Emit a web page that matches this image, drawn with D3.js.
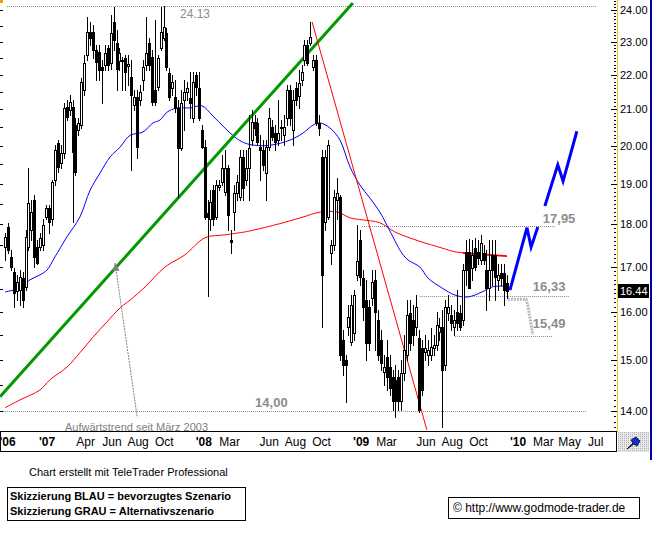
<!DOCTYPE html>
<html lang="de">
<head>
<meta charset="UTF-8">
<title>Chart</title>
<script src="https://cdn.jsdelivr.net/npm/d3@7"></script>
<style>
  body { margin: 0; background: #fff; }
  svg text { font-family: "Liberation Sans", Arial, sans-serif; }
</style>
</head>
<body>
<div id="chart"></div>
<script>
// weekly candles: [open, high, low, close]
const candles = [
  [17.46,17.79,17.16,17.69],[17.93,18.03,17.32,17.39],[17.23,17.39,16.92,16.99],[16.88,16.97,16.11,16.41],
  [16.44,16.81,16.26,16.66],[16.48,16.92,16.15,16.77],[16.75,16.88,16.11,16.26],[16.55,17.86,16.48,17.69],
  [17.46,19.41,17.39,18.52],[17.86,18.6,17.62,18.3],[18.6,18.72,16.99,17.23],[17.46,17.62,17.05,17.09],
  [17.46,17.79,17.39,17.67],[17.51,18.11,17.39,17.98],[18.18,18.47,18.11,18.4],[18.4,18.47,17.79,18.04],
  [18.11,19.1,17.98,19.05],[19.1,20.03,18.97,19.88],[20.08,20.16,19.31,19.44],[19.55,20.03,19.41,19.8],
  [19.8,21.17,19.67,21.05],[21.07,21.27,20.7,20.78],[20.99,21.41,20.84,21.21],[21.07,21.27,18.04,19.83],
  [20.57,20.76,19.23,19.31],[20.43,20.76,20.3,20.62],[20.57,21.9,20.49,21.78],[21.55,22.59,21.41,22.35],
  [22.59,23.76,22.44,23.3],[23.3,23.61,22.89,23.11],[23.3,23.51,22.5,22.74],[22.74,22.89,21.84,22.38],
  [22.68,22.89,21.84,22.14],[22.23,22.44,21.18,22.14],[22.29,22.89,22.14,22.65],[22.8,22.89,22.14,22.29],
  [22.35,23.83,22.17,23.26],[23.61,24.09,22.74,23.05],[22.95,23.36,21.55,22.17],[22.41,22.8,22.14,22.65],
  [22.41,22.53,21.55,22.44],[22.5,22.59,21.55,22.08],[22.26,22.59,21.7,22.32],[21.93,22.44,19.36,21.41],
  [21.13,21.55,20.99,21.35],[21.35,21.55,19.67,19.97],[21.27,21.7,21.13,21.49],[21.84,22.44,21.55,22.23],
  [22.29,23.76,22.14,22.65],[22.95,23.11,22.14,22.29],[22.53,22.74,21.13,21.21],[21.55,23.67,21.13,21.21],
  [21.64,22.59,21.55,22.5],[22.8,24.09,22.74,23.3],[23.11,24.13,23.05,23.45],[23.26,23.42,22.14,22.23],
  [22.05,22.2,21.27,21.35],[21.61,21.99,21.41,21.78],[21.35,21.84,20.92,21.04],[21.04,21.27,18.67,19.93],
  [19.93,21.55,19.88,21.19],[21.27,21.84,20.43,21.49],[21.49,21.78,21.27,21.61],[21.32,22.08,20.76,21.18],
  [20.76,22.08,20.64,21.78],[22.0,22.08,21.41,21.64],[21.61,22.08,20.7,20.76],[20.43,20.57,19.93,19.97],
  [19.97,20.16,18.11,18.16],[18.28,18.6,16.35,18.16],[18.11,18.84,17.86,18.55],[18.84,18.97,17.98,18.11],
  [18.16,19.1,18.11,18.97],[18.92,19.1,18.84,18.97],[19.05,19.75,18.97,19.41],[18.79,19.88,18.72,19.41],
  [19.41,19.49,17.86,18.23],[17.62,17.86,17.32,17.58],[18.3,18.97,17.86,18.77],[18.77,19.23,18.6,19.05],
  [18.67,19.88,18.6,19.7],[19.7,19.88,18.6,18.89],[19.1,19.88,18.97,19.41],[19.41,20.84,18.6,19.95],
  [20.16,20.99,20.03,20.65],[20.65,20.84,20.3,20.49],[20.62,20.76,20.03,20.11],[19.97,20.3,19.1,19.88],
  [19.88,20.16,19.36,19.49],[19.28,20.16,18.6,19.97],[19.97,21.04,19.88,20.76],[20.51,20.7,20.16,20.24],
  [20.35,20.57,19.88,20.11],[20.16,21.27,20.03,20.35],[20.49,20.7,20.16,20.51],[20.3,20.84,20.03,20.51],
  [20.76,21.7,20.57,21.55],[21.55,21.7,20.57,20.76],[20.43,21.55,20.03,21.27],[21.61,21.78,21.13,21.27],
  [21.38,22.14,21.04,21.76],[21.84,22.29,21.7,22.08],[22.44,23.05,22.29,22.89],[22.89,23.05,22.29,22.35],
  [22.95,23.61,22.89,23.14],[22.23,22.59,22.14,22.44],[22.44,22.59,20.57,20.62],[20.62,20.84,20.3,20.49],
  [19.7,19.88,15.67,16.81],[18.04,19.88,17.86,19.7],[18.18,20.16,18.11,20.03],[17.32,17.62,17.05,17.51],
  [17.51,18.84,17.39,18.67],[18.6,19.16,18.11,18.77],[18.67,18.72,15.0,15.1],[15.41,15.61,14.7,14.89],
  [15.0,15.1,14.17,14.89],[15.67,16.15,15.51,15.88],[15.37,16.37,15.3,16.15],[15.55,16.48,15.41,16.37],
  [16.81,17.98,16.7,17.12],[17.62,17.86,16.59,16.77],[16.75,16.92,15.82,16.11],[16.26,16.7,15.0,15.34],
  [16.11,16.26,15.2,15.34],[16.3,16.92,16.15,16.66],[16.7,16.92,15.2,16.0],[15.82,16.04,15.0,15.1],
  [15.41,15.61,14.79,14.93],[14.75,15.1,14.5,14.85],[15.06,15.41,14.4,14.66],[14.85,15.1,14.31,14.44],
  [14.66,14.79,14.02,14.19],[14.6,14.89,13.88,14.19],[14.66,14.79,14.02,14.19],[14.19,15.0,14.02,14.73],
  [14.73,15.51,14.6,15.2],[15.1,16.26,15.0,15.93],[15.97,16.26,15.2,15.34],[15.82,16.15,15.3,15.51],
  [15.67,16.37,15.51,16.09],[15.45,15.61,13.98,14.02],[15.24,15.41,14.31,14.4],[15.16,15.51,15.0,15.24],
  [15.1,15.41,14.89,15.2],[15.1,15.65,15.0,15.26],[15.24,15.51,15.1,15.3],[15.3,16.0,15.2,15.72],
  [15.57,15.86,15.41,15.67],[15.67,16.04,13.7,14.79],[14.89,16.26,14.79,16.11],[15.97,16.37,15.82,16.11],
  [15.93,16.15,15.61,15.76],[15.67,16.04,15.51,15.82],[16.0,16.48,15.61,15.76],[15.97,16.15,15.61,15.67],
  [15.82,17.05,15.72,16.92],[17.34,17.62,16.59,16.92],[17.34,17.65,16.52,16.52],[16.97,17.62,16.7,17.27],
  [17.44,17.67,16.92,16.99],[17.34,17.62,17.05,17.2],[17.16,17.74,17.05,17.55],[17.32,17.51,17.05,17.16],
  [16.92,17.39,16.04,16.52],[16.52,17.62,16.26,16.92],[17.27,17.62,16.59,16.92],[17.27,17.62,16.26,16.77],
  [16.7,17.05,16.48,16.81],[16.86,17.05,16.59,16.75],[16.86,17.05,16.15,16.48],[16.62,16.81,16.3,16.44]
];

// moving averages: [bar, price]
const blueMA = [
  [0,16.43],[5.1,16.52],[8.5,16.70],[11.9,16.81],[14.3,16.92],[17,17.22],[21.1,17.69],[25.5,18.17],
  [29,18.84],[32.4,19.28],[35.8,19.70],[39.2,19.96],[42.6,20.28],[47,20.37],[50.4,20.62],[52.8,20.70],
  [55.2,20.92],[58.6,21.04],[63,21.04],[67.1,21.10],[70.5,20.84],[74.9,20.48],[78.3,20.23],[81.7,20.07],
  [85.1,20.01],[90.3,20.01],[97.1,20.15],[101.5,20.34],[104.9,20.56],[107.3,20.62],[110.7,20.48],
  [114.1,20.15],[117.5,19.44],[120.9,18.97],[124.3,18.64],[127.7,18.29],[130.4,17.93],[135.2,17.31],
  [137.3,17.15],[141.3,16.99],[144.1,16.74],[148.8,16.52],[153.3,16.36],[157.7,16.32],[162.5,16.43],
  [165.9,16.54],[170.3,16.56]
];
const redMA = [
  [0,14.06],[5.1,14.21],[11.9,14.40],[15.3,14.60],[21.1,14.85],[25.5,15.14],[30,15.46],[34.7,15.78],
  [39.2,16.08],[42.6,16.25],[47.7,16.54],[54.5,16.99],[61.3,17.27],[68.1,17.67],[74.9,17.74],
  [81.7,17.81],[85.1,17.86],[94.7,18.03],[101.5,18.17],[107.3,18.29],[113.4,18.29],[117.5,18.15],
  [121.9,18.10],[127.7,18.03],[132.8,17.81],[140.7,17.60],[148.8,17.43],[153.3,17.34],[157.7,17.31]
];
const redLevel = [[156, 17.31], [171, 17.24]];

// drawn trend lines and scenarios: [bar, price]
const greenTrend = [[-1.7, 14.27], [118.5, 24.23]];
const redTrend = [[104.6, 23.62], [143.7, 13.65]];
const trendArrow = [[45.0, 13.90], [37.5, 17.08]];
const blueScenario = [
  [[172.0,16.47],[177.8,17.91],[179.2,17.45],[181.5,17.93]],
  [[183.9,18.44],[188.3,19.49],[190.1,19.07],[194.8,20.39]]
];
const grayScenario = [[171.3,16.27],[177.5,16.27],[178.1,16.14],[179.8,15.51]];

// horizontal marks
const levelPrices = [24.13, 14.00, 17.95, 16.33, 15.49];
const levelSpans = [[0.7,201.6],[-0.7,198.2],[121.6,187.3],[141.3,192.4],[153.3,186.6]];
const levelTexts = ["24.13", "14,00", "17,95", "16,33", "15,49"];

// axes
const yTicks = [14, 15, 16, 17, 18, 19, 20, 21, 22, 23, 24];
const lastPrice = 16.44;
const tickDates = ["2006-10-01","2007-01-01","2007-04-01","2007-06-01","2007-08-01","2007-10-01",
  "2008-01-01","2008-03-01","2008-06-01","2008-08-01","2008-10-01","2009-01-01","2009-03-01",
  "2009-06-01","2009-08-01","2009-10-01","2010-01-01","2010-03-01","2010-05-01","2010-07-01"];
const tickLabels = ["'06","'07","Apr","Jun","Aug","Oct","'08","Mar","Jun","Aug","Oct",
  "'09","Mar","Jun","Aug","Oct","'10","Mar","May","Jul"];

const W = 653, H = 535;
const plotR = 617, plotB = 431;

const svg = d3.select("#chart").append("svg")
  .attr("width", W).attr("height", H)
  .style("display", "block");

const x = d3.scaleLinear().domain([0, candles.length - 1]).range([5, 507]);
const y = d3.scaleLog().domain([14, 24]).range([411, 10]);
const xt = d3.scaleTime()
  .domain([new Date(2007, 0, 1), new Date(2010, 0, 1)])
  .range([47, 518]);

svg.append("defs").append("clipPath").attr("id", "plotclip")
  .append("rect").attr("x", 0).attr("y", 0).attr("width", plotR).attr("height", plotB);

const plot = svg.append("g").attr("clip-path", "url(#plotclip)");

// dotted levels
levelPrices.forEach((p, i) => {
  plot.append("line")
    .attr("x1", x(levelSpans[i][0])).attr("x2", x(levelSpans[i][1]))
    .attr("y1", Math.round(y(p)) + 0.5).attr("y2", Math.round(y(p)) + 0.5)
    .attr("stroke", "#8c8c8c").attr("stroke-dasharray", "1,1");
});

// level labels
const labelBar = [59.6, 85.2, 183.2, 179.8, 179.8];
const labelDy = [12, -4, -3, -5, -8];
levelTexts.forEach((t, i) => {
  plot.append("text")
    .attr("x", x(labelBar[i])).attr("y", y(levelPrices[i]) + labelDy[i])
    .attr("fill", "#8c8c8c")
    .style("font-size", i === 0 ? "12px" : "13px")
    .style("font-weight", i === 0 ? "normal" : "bold")
    .text(t);
});

const line = d3.line().x(d => x(d[0])).y(d => y(d[1]));
const smooth = d3.line().x(d => x(d[0])).y(d => y(d[1])).curve(d3.curveCatmullRom.alpha(0.5));

// moving averages
plot.append("path").datum(redMA).attr("d", smooth)
  .attr("fill", "none").attr("stroke", "#ff0000").attr("stroke-width", 1);
plot.append("path").datum(redLevel).attr("d", line)
  .attr("fill", "none").attr("stroke", "#ff0000").attr("stroke-width", 2);
plot.append("path").datum(blueMA).attr("d", smooth)
  .attr("fill", "none").attr("stroke", "#0000ff").attr("stroke-width", 1);

// trend lines
plot.append("path").datum(greenTrend).attr("d", line)
  .attr("fill", "none").attr("stroke", "#009900").attr("stroke-width", 3);
plot.append("path").datum(redTrend).attr("d", line)
  .attr("fill", "none").attr("stroke", "#ff0000").attr("stroke-width", 1);

// candles
const cg = plot.append("g").attr("shape-rendering", "crispEdges");
candles.forEach((d, i) => {
  const cx = Math.round(x(i));
  const [o, h, l, c] = d;
  cg.append("line")
    .attr("x1", cx + 0.5).attr("x2", cx + 0.5)
    .attr("y1", Math.round(y(h))).attr("y2", Math.round(y(l)) + 1)
    .attr("stroke", "#000");
  const top = Math.round(y(Math.max(o, c)));
  const bot = Math.round(y(Math.min(o, c)));
  if (c >= o) {
    cg.append("rect")
      .attr("x", cx - 0.5).attr("y", top + 0.5)
      .attr("width", 2).attr("height", Math.max(bot - top, 1))
      .attr("fill", "#fff").attr("stroke", "#000");
  } else {
    cg.append("rect")
      .attr("x", cx - 1).attr("y", top)
      .attr("width", 3).attr("height", Math.max(bot - top, 1) + 1)
      .attr("fill", "#000");
  }
});

// scenarios
plot.append("path").datum(grayScenario).attr("d", line)
  .attr("fill", "none").attr("stroke", "#b8b8b8").attr("stroke-width", 3)
  .attr("stroke-dasharray", "2,1");
blueScenario.forEach(seg => {
  plot.append("path").datum(seg).attr("d", line)
    .attr("fill", "none").attr("stroke", "#0000ff").attr("stroke-width", 3);
});

// arrow to green trend line
const a0 = [x(trendArrow[0][0]), y(trendArrow[0][1])];
const a1 = [x(trendArrow[1][0]), y(trendArrow[1][1])];
plot.append("line")
  .attr("x1", a0[0]).attr("y1", a0[1]).attr("x2", a1[0]).attr("y2", a1[1])
  .attr("stroke", "#808080").attr("stroke-dasharray", "2,1");
const ang = Math.atan2(a1[1] - a0[1], a1[0] - a0[0]);
const head = [0, 1, -1].map(k => k === 0 ? a1 :
  [a1[0] - 8 * Math.cos(ang) + k * 3.5 * Math.sin(ang), a1[1] - 8 * Math.sin(ang) - k * 3.5 * Math.cos(ang)]);
plot.append("polygon").attr("points", head.map(p => p.join(",")).join(" "))
  .attr("fill", "#808080");

plot.append("text").attr("x", 65).attr("y", 431)
  .attr("fill", "#808080").style("font-size", "11px")
  .text("Aufwärtstrend seit März 2003");

// left edge ticks
const halfTicks = d3.range(14, 24.01, 0.5);
svg.append("g").selectAll("line").data(halfTicks).join("line")
  .attr("x1", 0).attr("x2", 3)
  .attr("y1", d => Math.round(y(d)) + 0.5).attr("y2", d => Math.round(y(d)) + 0.5)
  .attr("stroke", "#000");
svg.append("rect").attr("x", 0).attr("y", 0).attr("width", 3).attr("height", 3).attr("fill", "#ff9900");

// right axis
const ax = svg.append("g").attr("shape-rendering", "crispEdges");
ax.append("line").attr("x1", plotR + 0.5).attr("x2", plotR + 0.5).attr("y1", 0).attr("y2", plotB + 1)
  .attr("stroke", "#f0c020");
ax.append("line").attr("x1", 650.5).attr("x2", 650.5).attr("y1", 0).attr("y2", 460)
  .attr("stroke", "#0000a0").attr("stroke-width", 2);
const minor = d3.range(137, 244).map(v => v / 10);
ax.selectAll(".mn").data(minor).join("line").attr("class", "mn")
  .attr("x1", 614).attr("x2", 616)
  .attr("y1", d => Math.round(y(d)) + 0.5).attr("y2", d => Math.round(y(d)) + 0.5)
  .attr("stroke", "#000");
ax.selectAll(".mj").data(yTicks).join("line").attr("class", "mj")
  .attr("x1", 611).attr("x2", 617)
  .attr("y1", d => Math.round(y(d)) + 0.5).attr("y2", d => Math.round(y(d)) + 0.5)
  .attr("stroke", "#000");
ax.selectAll(".yl").data(yTicks).join("text").attr("class", "yl")
  .attr("x", 620).attr("y", d => y(d) + 4)
  .style("font-size", "11px").attr("fill", "#000")
  .text(d => d.toFixed(2));
ax.append("rect").attr("x", 618).attr("y", Math.round(y(lastPrice)) - 7)
  .attr("width", 31).attr("height", 14).attr("fill", "#000");
ax.append("text").attr("x", 620).attr("y", y(lastPrice) + 4)
  .style("font-size", "11px").attr("fill", "#fff").text(lastPrice.toFixed(2));

// x axis strip
const xa = svg.append("g");
xa.append("rect").attr("x", 0.5).attr("y", 431.5).attr("width", 616).attr("height", 20)
  .attr("fill", "#fff").attr("stroke", "#000");
const parse = d3.timeParse("%Y-%m-%d");
xa.selectAll("text").data(tickDates).join("text")
  .attr("x", d => xt(parse(d))).attr("y", 446)
  .attr("text-anchor", "middle")
  .style("font-size", "12px")
  .style("font-weight", (d, i) => tickLabels[i][0] === "'" ? "bold" : "normal")
  .text((d, i) => tickLabels[i]);

// corner icon box
const pat = svg.select("defs").append("pattern").attr("id", "hatch")
  .attr("width", 2).attr("height", 2).attr("patternUnits", "userSpaceOnUse");
pat.append("rect").attr("width", 2).attr("height", 2).attr("fill", "#e8e8e8");
pat.append("rect").attr("width", 1).attr("height", 1).attr("fill", "#b0b0b0");
svg.append("rect").attr("x", 618).attr("y", 432).attr("width", 31).attr("height", 20).attr("fill", "url(#hatch)");
svg.append("path").attr("d", "M627,449 L633,443 L631,440 L636,437 L640,441 L637,446 L634,444 Z")
  .attr("fill", "#1030e0").attr("stroke", "#000").attr("stroke-width", 0.8);

// footer
svg.append("text").attr("x", 29).attr("y", 476).style("font-size", "11px").attr("fill", "#000")
  .text("Chart erstellt mit TeleTrader Professional");
svg.append("rect").attr("x", 7.5).attr("y", 487.5).attr("width", 238).attr("height", 33)
  .attr("fill", "none").attr("stroke", "#000");
svg.append("text").attr("x", 10).attr("y", 500).style("font-size", "11px").style("font-weight", "bold")
  .text("Skizzierung BLAU = bevorzugtes Szenario");
svg.append("text").attr("x", 10).attr("y", 515).style("font-size", "11px").style("font-weight", "bold")
  .text("Skizzierung GRAU = Alternativszenario");
svg.append("rect").attr("x", 448.5).attr("y", 497.5).attr("width", 191).attr("height", 21)
  .attr("fill", "none").attr("stroke", "#000");
svg.append("text").attr("x", 453).attr("y", 512).style("font-size", "12px")
  .text("© http://www.godmode-trader.de");
</script>
</body>
</html>
